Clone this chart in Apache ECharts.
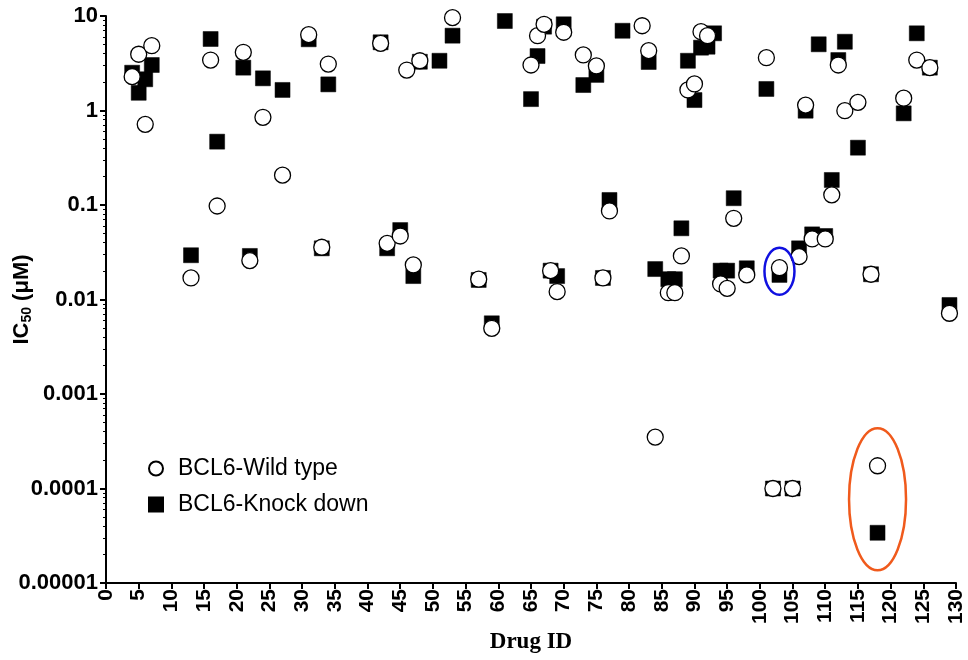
<!DOCTYPE html>
<html>
<head>
<meta charset="utf-8">
<script src="https://cdn.jsdelivr.net/npm/echarts@6/dist/echarts.min.js"></script>
<style>
html, body { margin: 0; padding: 0; background: #fff; }
#ic50_scatter { width: 968px; height: 660px; }
</style>
</head>
<body>
<div id="ic50_scatter"></div>
<script>
// values (IC50 in uM, per drug ID)
var wildTypeIds = [4, 5, 6, 7, 13, 16, 17, 21, 22, 24, 27, 31, 33, 34, 42, 43, 45, 46, 47, 48,
    53, 57, 59, 65, 66, 67, 68, 69, 70, 73, 75, 76, 77, 82, 83, 84, 86, 87, 88, 89,
    90, 91, 92, 94, 95, 96, 98, 101, 102, 103, 105, 106, 107, 108, 110, 111, 112, 113, 115, 117,
    118, 122, 124, 126, 129];
var wildTypeIC50 = [2.28, 3.94, 0.714, 4.85, 0.0169, 3.42, 0.0976, 4.13, 0.0258, 0.847, 0.207, 6.35, 0.0357, 3.10, 5.14, 0.0393, 0.047, 2.68, 0.0232, 3.36,
    9.6, 0.0164, 0.00496, 3.03, 6.19, 8.17, 0.0202, 0.0121, 6.73, 3.87, 2.96, 0.0169, 0.0865, 7.89, 4.30, 0.00035, 0.0118, 0.0118, 0.0289, 1.65,
    1.91, 6.82, 6.19, 0.0146, 0.0131, 0.0723, 0.0182, 3.62, 0.0001, 0.0217, 0.0001, 0.0284, 1.14, 0.0437, 0.0437, 0.128, 3.03, 0.995, 1.22, 0.0185,
    0.000174, 1.35, 3.42, 2.84, 0.00715];

var knockDownIds = [4, 5, 6, 7, 13, 16, 17, 21, 22, 24, 27, 31, 33, 34, 42, 43, 45, 47, 48, 51,
    53, 57, 59, 61, 65, 66, 67, 68, 69, 70, 73, 75, 76, 77, 79, 83, 84, 86, 87, 88,
    89, 90, 91, 92, 93, 94, 95, 96, 98, 101, 102, 103, 105, 106, 107, 108, 109, 110, 111, 112,
    113, 115, 117, 118, 122, 124, 126, 129];
var knockDownIC50 = [2.51, 1.54, 2.14, 3.03, 0.0294, 5.71, 0.468, 2.84, 0.0289, 2.19, 1.65, 5.67, 0.0348, 1.89, 5.27, 0.0348, 0.0543, 0.0177, 3.28, 3.36,
    6.19, 0.0161, 0.0056, 8.85, 1.32, 3.77, 7.71, 0.0202, 0.0177, 8.17, 1.86, 2.38, 0.0169, 0.113, 6.98, 3.26, 0.021, 0.0164, 0.0164, 0.0567,
    3.36, 1.29, 4.62, 4.73, 6.56, 0.0202, 0.0202, 0.118, 0.0214, 1.69, 0.0001, 0.0182, 0.0001, 0.0348, 0.995, 0.0489, 5.02, 0.047, 0.184, 3.42,
    5.34, 0.404, 0.0185, 0.000034, 0.933, 6.56, 2.84, 0.00875];

var highlightIds = [103, 118];
var yTickLabels = ['0.00001', '0.0001', '0.001', '0.01', '0.1', '1', '10'];
var seriesNames = ['BCL6-Wild type', 'BCL6-Knock down'];

function toPairs(ids, vals) {
    return ids.map(function (id, i) { return [id, vals[i]]; });
}
// ellipse centre = geometric mean of the two measurements for that drug
var highlightData = highlightIds.map(function (id) {
    var w = wildTypeIC50[wildTypeIds.indexOf(id)];
    var k = knockDownIC50[knockDownIds.indexOf(id)];
    return [id, Math.sqrt(w * k)];
});
var highlightStyle = [
    { color: '#1010e0', rx: 15, ry: 23.5 },
    { color: '#f05a1c', rx: 28.5, ry: 71 }
];

var ic50_scatter = echarts.init(document.getElementById('ic50_scatter'));
var option = {
    animation: false,
    grid: { left: 106, right: 12, top: 16, bottom: 77, containLabel: false, outerBoundsMode: 'none' },
    legend: {
        orient: 'vertical',
        left: 143,
        top: 452,
        itemWidth: 14,
        itemHeight: 14,
        itemGap: 13,
        data: seriesNames,
        textStyle: { fontFamily: 'Liberation Sans', fontSize: 23, color: '#000', padding: [0, 0, 0, 10] }
    },
    xAxis: {
        type: 'value',
        min: 0,
        max: 130,
        interval: 5,
        name: 'Drug ID',
        nameLocation: 'middle',
        nameGap: 48,
        nameMoveOverlap: false,
        nameTextStyle: { fontFamily: 'Liberation Serif', fontWeight: 'bold', fontSize: 23, color: '#000' },
        axisLine: { show: true, onZero: false, lineStyle: { color: '#000', width: 2 } },
        axisTick: { show: true, length: 6, lineStyle: { color: '#000', width: 2 } },
        axisLabel: { rotate: 90, margin: 6, fontFamily: 'Liberation Sans', fontWeight: 'bold', fontSize: 21, color: '#000' },
        splitLine: { show: false }
    },
    yAxis: {
        type: 'log',
        logBase: 10,
        min: 0.00001,
        max: 10,
        name: '{a|IC}{b|50}{a| (μM)}',
        nameLocation: 'middle',
        nameRotate: 90,
        nameGap: 72,
        nameMoveOverlap: false,
        nameTextStyle: {
            rich: {
                a: { fontFamily: 'Liberation Sans', fontWeight: 'bold', fontSize: 22, color: '#000' },
                b: { fontFamily: 'Liberation Sans', fontWeight: 'bold', fontSize: 14, color: '#000', padding: [10, 0, 0, 0] }
            }
        },
        axisLine: { show: true, lineStyle: { color: '#000', width: 2 } },
        axisTick: { show: true, length: 6, lineStyle: { color: '#000', width: 2 } },
        minorTick: { show: true, splitNumber: 9, length: 3, lineStyle: { color: '#000', width: 1 } },
        axisLabel: {
            margin: 8,
            fontFamily: 'Liberation Sans', fontWeight: 'bold', fontSize: 22, color: '#000',
            formatter: function (v) {
                var i = Math.round(Math.log(v) / Math.LN10) + 5;
                return yTickLabels[i] !== undefined ? yTickLabels[i] : '';
            }
        },
        splitLine: { show: false },
        minorSplitLine: { show: false }
    },
    series: [
        {
            name: seriesNames[1],
            type: 'scatter',
            symbol: 'rect',
            symbolSize: 15,
            itemStyle: { color: '#000', borderColor: '#000', borderWidth: 0.5, opacity: 1 },
            data: toPairs(knockDownIds, knockDownIC50),
            z: 2
        },
        {
            name: seriesNames[0],
            type: 'scatter',
            symbol: 'circle',
            symbolSize: 16,
            itemStyle: { color: '#fff', borderColor: '#000', borderWidth: 1.3, opacity: 1 },
            data: toPairs(wildTypeIds, wildTypeIC50),
            z: 3
        },
        {
            type: 'custom',
            silent: true,
            clip: false,
            z: 4,
            data: highlightData,
            renderItem: function (params, api) {
                var p = api.coord([api.value(0), api.value(1)]);
                var s = highlightStyle[params.dataIndex];
                return {
                    type: 'ellipse',
                    shape: { cx: p[0], cy: p[1], rx: s.rx, ry: s.ry },
                    style: { fill: null, stroke: s.color, lineWidth: 2.5 }
                };
            }
        }
    ]
};
ic50_scatter.setOption(option);

window.onresize = ic50_scatter.resize;
</script>
</body>
</html>
